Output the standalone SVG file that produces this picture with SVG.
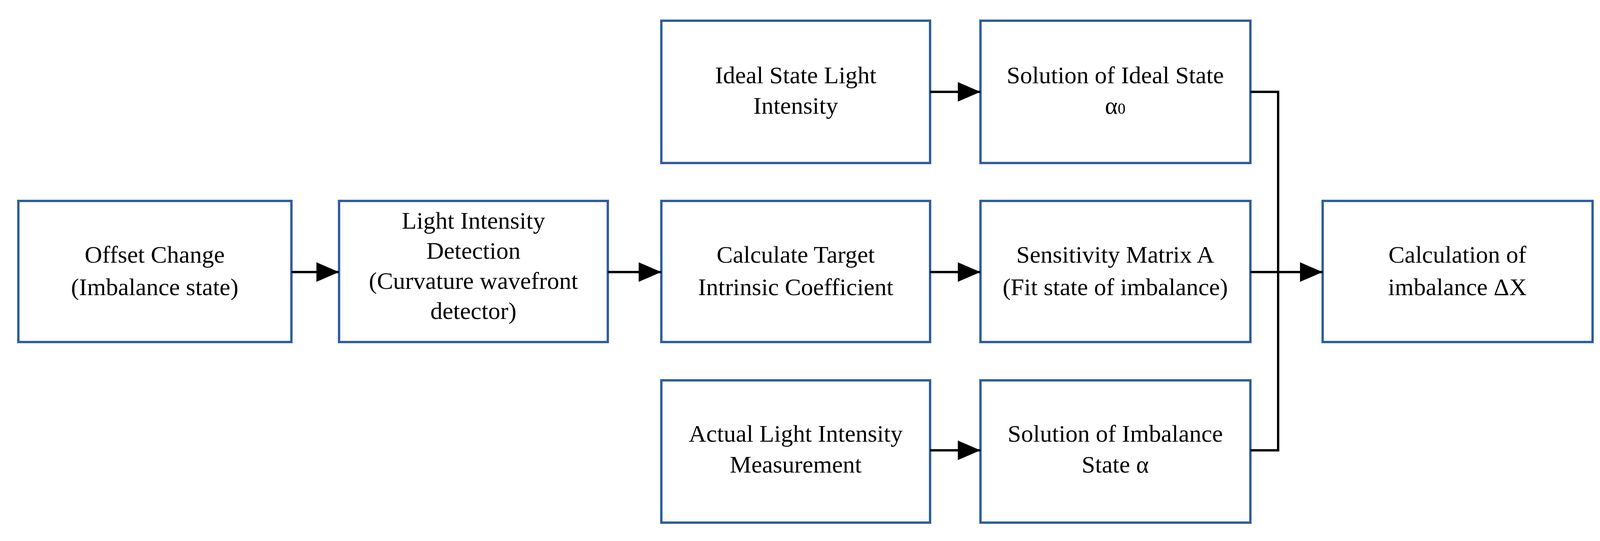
<svg xmlns="http://www.w3.org/2000/svg" width="4135" height="1384" viewBox="0 0 4135 1384">
<style>
.b{fill:#fff;stroke:#2E5E9F;stroke-width:6}
.t{font-family:"Liberation Serif",serif;font-size:62px;text-anchor:middle;fill:#000}
.c{stroke:#000;stroke-width:6;fill:none}
</style>
<defs><marker id="a" markerUnits="userSpaceOnUse" markerWidth="60" markerHeight="60" refX="58" refY="30" orient="auto"><path d="M0,5 L58,30 L0,55 Z" fill="#000"/></marker></defs>
<rect width="4135" height="1384" fill="#fff"/>
<g id="n1"><rect class="b" x="47" y="514" width="699" height="361"/><text class="t" x="396" y="672">Offset Change</text><text class="t" x="396" y="755">(Imbalance state)</text></g>
<g id="n2"><rect class="b" x="868" y="514" width="688" height="361"/><text class="t" x="1212" y="585">Light Intensity</text><text class="t" x="1212" y="662">Detection</text><text class="t" x="1212" y="739">(Curvature wavefront</text><text class="t" x="1212" y="816">detector)</text></g>
<g id="n3"><rect class="b" x="1693" y="53" width="688" height="364"/><text class="t" x="2037" y="213">Ideal State Light</text><text class="t" x="2037" y="291">Intensity</text></g>
<g id="n4"><rect class="b" x="1693" y="514" width="688" height="361"/><text class="t" x="2037" y="672">Calculate Target</text><text class="t" x="2037" y="755">Intrinsic Coefficient</text></g>
<g id="n5"><rect class="b" x="1693" y="973" width="688" height="364"/><text class="t" x="2037" y="1130">Actual Light Intensity</text><text class="t" x="2037" y="1209">Measurement</text></g>
<g id="n6"><rect class="b" x="2510" y="53" width="691" height="364"/><text class="t" x="2855" y="213">Solution of Ideal State</text><text class="t" x="2855" y="291">α<tspan font-size="40px">0</tspan></text></g>
<g id="n7"><rect class="b" x="2510" y="514" width="691" height="361"/><text class="t" x="2855" y="672">Sensitivity Matrix A</text><text class="t" x="2855" y="755">(Fit state of imbalance)</text></g>
<g id="n8"><rect class="b" x="2510" y="973" width="691" height="364"/><text class="t" x="2855" y="1130">Solution of Imbalance</text><text class="t" x="2855" y="1209">State α</text></g>
<g id="n9"><rect class="b" x="3386" y="514" width="691" height="361"/><text class="t" x="3731" y="672">Calculation of</text><text class="t" x="3731" y="755">imbalance ΔX</text></g>
<g id="connectors">
<line class="c" x1="746" y1="696" x2="868" y2="696" marker-end="url(#a)"/>
<line class="c" x1="1556" y1="696" x2="1693" y2="696" marker-end="url(#a)"/>
<line class="c" x1="2381" y1="235" x2="2510" y2="235" marker-end="url(#a)"/>
<line class="c" x1="2381" y1="696" x2="2510" y2="696" marker-end="url(#a)"/>
<line class="c" x1="2381" y1="1152" x2="2510" y2="1152" marker-end="url(#a)"/>
<path class="c" d="M3201,235 H3272 V1152 H3201"/>
<line class="c" x1="3201" y1="696" x2="3386" y2="696" marker-end="url(#a)"/>
</g>
</svg>
